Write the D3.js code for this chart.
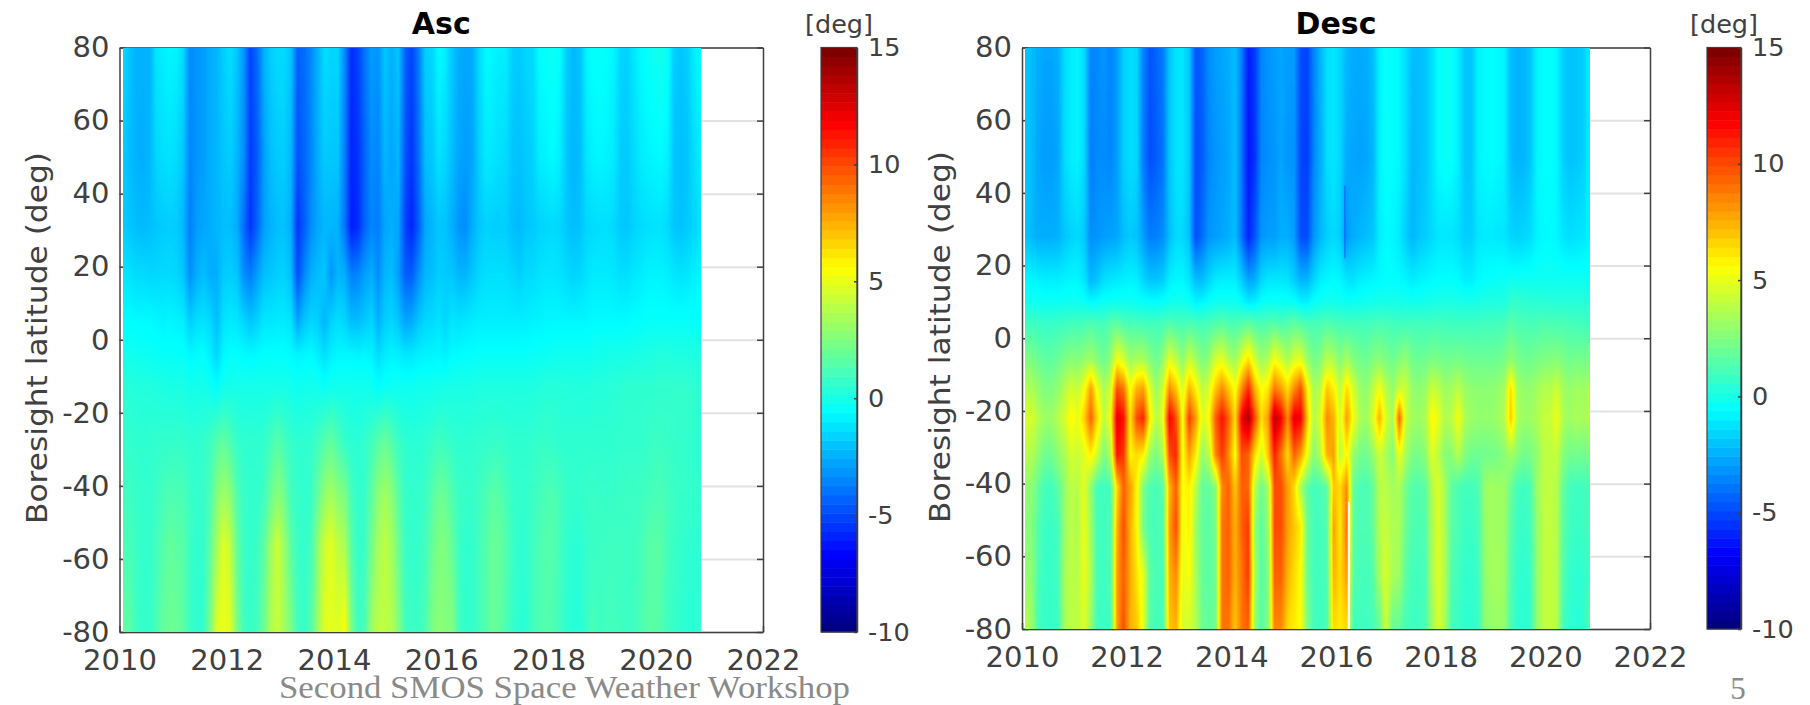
<!DOCTYPE html>
<html>
<head>
<meta charset="utf-8">
<style>
  html, body { margin: 0; padding: 0; background: #fff; }
  svg { display: block; }
</style>
<script src="https://cdn.jsdelivr.net/npm/d3@7"></script>
</head>
<body>
<svg id="chart" width="1810" height="705"></svg>
<script>
// tick labels
const yearTicks = [2010, 2012, 2014, 2016, 2018, 2020, 2022];
const latTicks = [-80, -60, -40, -20, 0, 20, 40, 60, 80];
const cbarTicks = [-10, -5, 0, 5, 10, 15];

// time of each column, one column roughly every 1/8 year
const firstYear = 2010.06;
const yearStep = 0.1254;

// Asc panel, latitude of each row then one row per latitude (deg)
const ascLats = [80, 50, 31, 18, 5, -4, -13, -28, -43, -56, -80];
const asc80 = [
  -1.5,-2,-2.5,-2.5,-2.5,-1.2,-1,-.8,-.9,-1.5,
  -3.5,-3.2,-3,-2.6,-2.4,-1.8,-1.4,-2,-3.2,-5.2,
  -4.2,-2.5,-1.8,-1.5,-1.5,-2,-4.5,-4.2,-3.5,-2.5,
  -1.4,-1.6,-1.6,-3.5,-5.8,-5.2,-4,-3,-3.2,-2,
  -2.5,-2,-4.5,-5.2,-3.8,-1.8,-1.6,-.7,-1,-2,
  -2.6,-2.8,-2.6,-1.5,-.7,-.8,-1,-1,-1.8,-1.9,
  -1.6,-1.5,-.6,-.5,-.3,-.6,-1.8,-2.3,-2.1,-.8,
  -.5,-.5,-.6,-.8,-1.6,-1.7,-1.2,-.7,-.5,-.3,
  -.2,-.4,-1.8,-2,-1.8,-1,-.7];
const asc50 = [
  -1.8,-2.2,-2.5,-2.6,-2.4,-1.6,-1.4,-1.3,-1.5,-2,
  -3.6,-3.2,-3,-2.6,-2.4,-2,-1.8,-2.4,-3.4,-5.4,
  -4.6,-3,-2.2,-1.9,-1.8,-2.4,-4.8,-4.4,-3.6,-2.6,
  -1.9,-2,-2,-3.8,-6,-5.6,-4.4,-3.4,-3.6,-2.4,
  -2.8,-2.4,-4.8,-5.6,-4.2,-2.2,-2,-1.3,-1.6,-2.2,
  -2.8,-3,-2.8,-1.8,-1.1,-1.2,-1.4,-1.5,-2,-2.1,
  -1.9,-1.7,-1,-.9,-.7,-1,-2,-2.4,-2.2,-1.2,
  -.9,-.8,-.9,-1.1,-1.8,-1.9,-1.5,-1.1,-.9,-.8,
  -.7,-.9,-2,-2.2,-2,-1.4,-1];
const asc31 = [
  -1.8,-2,-2.2,-2.3,-2.2,-2,-1.9,-1.8,-1.9,-2.4,
  -3.8,-3,-2.8,-2.6,-2.4,-2.2,-2.2,-2.6,-4.2,-5.6,
  -4.4,-3,-2.5,-2.2,-2.1,-2.6,-5.6,-4.6,-3.4,-2.8,
  -2.4,-2.4,-2.5,-4,-6.2,-5.8,-4.4,-3.6,-3.8,-2.8,
  -2.6,-2.8,-5.2,-6,-4.6,-2.8,-2.4,-2,-2.1,-2.6,
  -3.2,-3.4,-2.6,-2,-1.7,-1.8,-1.8,-1.8,-2.2,-2.3,
  -2,-1.9,-1.7,-1.6,-1.5,-1.6,-2,-2.2,-2.1,-1.6,
  -1.5,-1.4,-1.4,-1.5,-1.9,-2,-1.7,-1.5,-1.4,-1.3,
  -1.3,-1.5,-2,-2.1,-1.9,-1.6,-1.3];
const asc18 = [
  -1.2,-1.3,-1.5,-1.5,-1.6,-1.6,-1.5,-1.5,-1.6,-2,
  -3.4,-2.6,-2.2,-2.6,-2.6,-1.9,-1.8,-2,-3.4,-3.8,
  -3,-2.2,-2,-1.8,-1.7,-2.2,-5,-3.6,-2.6,-2.2,
  -2,-3.2,-2.4,-2.6,-3.8,-3.6,-3,-2.6,-3.4,-2.4,
  -2.2,-3,-4.6,-4.6,-3.4,-2.4,-2.2,-1.8,-1.9,-2,
  -2.4,-2.4,-2,-1.6,-1.4,-1.4,-1.4,-1.4,-1.6,-1.8,
  -1.5,-1.5,-1.3,-1.2,-1.2,-1.3,-1.5,-1.7,-1.6,-1.3,
  -1.1,-1.1,-1.1,-1.2,-1.4,-1.4,-1.2,-1.1,-.9,-.9,
  -.9,-1,-1.2,-1.3,-1.2,-1,-.8];
const asc5 = [
  -.6,-.6,-.7,-.7,-.7,-.8,-.9,-.8,-.9,-1,
  -1.8,-1.4,-1.3,-1.5,-2.2,-1.3,-1.1,-1.2,-1.6,-2,
  -1.7,-1.2,-1.2,-1.1,-1.1,-1.3,-2.8,-2,-1.6,-1.8,
  -2.4,-1.7,-1.4,-1.6,-2.2,-2.2,-1.9,-1.6,-2.5,-1.8,
  -1.6,-2,-2.8,-2.6,-2,-1.6,-1.5,-1.3,-1.6,-1.2,
  -1.3,-1.2,-1.1,-1,-1,-1,-1,-1,-1,-1,
  -1,-.9,-.9,-.8,-.8,-.8,-.8,-.8,-.8,-.8,
  -.7,-.7,-.7,-.7,-.7,-.7,-.6,-.6,-.5,-.5,
  -.5,-.5,-.5,-.5,-.5,-.5,-.5];
const ascS4 = [
  -.2,-.2,-.3,-.3,-.4,-.4,-.5,-.5,-.5,-.5,
  -.8,-.7,-.6,-1,-1.6,-.8,-.6,-.6,-.7,-.8,
  -.7,-.6,-.6,-.6,-.6,-.7,-.9,-.8,-.7,-1,
  -1.4,-1,-.8,-.8,-.8,-.9,-.8,-.9,-1.5,-1.1,
  -.9,-1,-1.2,-1.2,-1,-.9,-.9,-.8,-1,-.7,
  -.7,-.6,-.6,-.5,-.5,-.5,-.5,-.5,-.5,-.5,
  -.5,-.4,-.4,-.4,-.3,-.3,-.3,-.3,-.3,-.3,
  -.2,-.2,-.1,-.1,-.1,-.1,0,0,.1,.1,
  .2,.2,.1,.1,.1,.1,.1];
const ascS13 = [
  .3,.3,.2,.2,.2,.1,.1,0,0,0,
  -.2,-.1,-.1,-.3,-.6,-.2,-.1,-.1,-.1,-.1,
  -.1,-.1,-.1,-.1,-.1,-.2,-.3,-.2,-.2,-.2,
  -.4,-.2,-.2,-.2,-.2,-.2,-.2,-.3,-.6,-.4,
  -.3,-.3,-.3,-.3,-.2,-.2,-.2,-.1,-.1,0,
  0,0,0,.1,.1,.1,.1,.1,.1,.1,
  .1,.1,.2,.3,.3,.3,.2,.2,.2,.2,
  .3,.3,.3,.4,.4,.5,.5,.5,.5,.5,
  .6,.6,.6,.6,.6,.5,.5];
const ascS28 = [
  .6,.6,.5,.5,.5,.6,.6,.6,.7,.6,
  .5,.5,.6,.9,1.4,1.8,1.2,.7,.5,.5,
  .5,.6,1,1.5,1,.7,.5,.5,.6,1,
  1.4,1.8,1.2,.7,.4,.4,.6,1,1.5,1.9,
  1.4,.8,.5,.4,.4,.5,.7,.9,.8,.6,
  .5,.5,.5,.6,.6,.7,.7,.6,.5,.5,
  .5,.6,.7,.7,.6,.5,.5,.5,.5,.5,
  .5,.5,.5,.5,.6,.6,.6,.6,.7,.8,
  .8,.7,.7,.6,.6,.5,.5];
const ascS43 = [
  .9,.9,.7,.6,.6,.8,1.1,1.3,1.2,1.2,
  .8,.6,.7,1.2,2.6,3.4,2.8,1.4,.7,.6,
  .6,.9,1.9,2.8,2.2,1,.7,.5,.8,1.8,
  3,3.5,2.8,2.4,1.1,.6,.7,1.7,2.8,3.4,
  2.8,1.6,.7,.6,.6,.8,1.4,2,1.9,1.3,
  .8,.7,.7,.9,1.2,1.6,1.5,1.1,.7,.6,
  .6,.8,1,1.2,1.3,1,.7,.6,.6,.7,
  .8,.7,.7,.7,.8,.8,.8,.9,1,1.1,
  1.2,1,.8,.7,.7,.6,.6];
const ascS56 = [
  1.2,1.1,.8,.6,.6,1,1.4,1.8,1.6,1.5,
  .8,.5,.6,1.6,3.4,4.9,4,1.8,.8,.6,
  .8,1.6,3.2,4.4,3.2,1.6,.8,.6,1,2.8,
  4.4,4.9,4,3.6,1.5,.6,.8,2.2,3.4,4,
  3.4,2,.8,.6,.7,1,1.8,2.5,2.4,1.8,
  .8,.5,.6,1,1.4,1.9,1.8,1.4,.8,.5,
  .5,.9,1.2,1.4,1.4,1,.6,.4,.4,.7,
  .8,.8,.9,.9,.9,.8,.9,1,1.4,1.6,
  1.5,1,.8,.6,.5,.5,.5];
const ascS80 = [
  1.8,1.6,.9,.6,.6,1.2,1.8,2,2,1.6,
  .8,.5,.6,2.4,4.8,5.2,4.8,2.4,.9,.7,
  1,2,3.6,4.2,3.4,2.4,1,.7,1.4,3.2,
  4.8,5,4.8,5.6,2.4,.8,1.2,3.2,4,4,
  3.8,2.6,1,.8,.8,1.2,2.4,2.8,2.6,2.6,
  1,.6,.6,1,1.4,1.9,1.7,1.2,.7,.4,
  .4,1,1.3,1.4,1.2,.9,.5,.3,.3,.8,
  1.1,.9,1,1,.9,.8,.9,1.2,1.5,1.6,
  1.4,.9,.7,.5,.4,.4,.6];

// Desc panel
const descLats = [80, 50, 28, 16, 10, 4, -6, -14, -22, -32, -41, -52, -65, -80];
const desc80 = [
  -2,-2.2,-2.6,-2.8,-2.8,-2.6,-1.5,-1,-.9,-1.5,
  -3.6,-3.5,-3.2,-3.6,-3,-1.8,-1.4,-1.6,-3.6,-4.8,
  -4.4,-3.8,-2,-1.3,-1.2,-2,-4.8,-4.4,-3.4,-3,
  -2.8,-2.6,-2.2,-3.8,-6.2,-5.4,-3.6,-3.2,-3,-2.8,
  -3,-3,-5,-5.2,-3.6,-2.4,-1.4,-1.2,-1.6,-2.4,
  -2.6,-2.7,-2.6,-2.2,-.9,-.5,-.6,-.8,-1.4,-2.2,
  -2.2,-2,-1.4,-.6,-.4,-.5,-1,-2,-2,-.9,
  -.7,-.6,-.7,-.9,-2.2,-2.5,-2.4,-2,-.8,-.6,
  -.6,-.8,-1.8,-2.1,-2,-1.8,-1];
const desc50 = [
  -2,-2.2,-2.8,-3,-3,-2.8,-1.5,-1,-.9,-1.5,
  -3.8,-3.5,-3.4,-3.6,-3,-1.8,-1.4,-1.6,-3.8,-5,
  -4.6,-4,-2,-1.3,-1.2,-2,-5,-4.6,-3.6,-3.2,
  -3,-2.8,-2.2,-4,-6.4,-5.6,-3.6,-3.4,-3.2,-2.8,
  -3.2,-3.2,-5.2,-5.4,-3.6,-2.6,-1.4,-1.2,-1.6,-2.6,
  -2.8,-2.9,-2.8,-2.4,-.9,-.5,-.6,-.8,-1.4,-2.4,
  -2.2,-2,-1.4,-.6,-.4,-.5,-1,-2,-2,-.9,
  -.7,-.6,-.7,-.9,-2.2,-2.5,-2.4,-2,-.8,-.6,
  -.6,-.8,-1.8,-2.1,-2,-1.8,-1];
const desc28 = [
  -2,-2.3,-2.6,-2.6,-2.6,-2.5,-2,-1.7,-1.5,-1.9,
  -3.4,-3.2,-3,-2.9,-2.8,-2.2,-1.9,-2.1,-3,-3.8,
  -3.7,-3.4,-2.2,-1.5,-1.5,-2.2,-5,-4.2,-3.2,-3,
  -2.8,-2.6,-2.2,-4,-6,-4.8,-3.2,-3,-3,-2.6,
  -2.6,-3,-5,-5,-3.2,-2.4,-1.8,-1.5,-1.8,-3.2,
  -2.6,-2.4,-2.2,-2,-1,-.7,-.8,-1.1,-1.8,-2.4,
  -2,-1.8,-1.5,-1.2,-1.2,-1.2,-1.4,-1.8,-1.8,-1.2,
  -1.1,-1.1,-1.2,-1.2,-1.6,-1.7,-1.6,-1.4,-.9,-.7,
  -.7,-.8,-1.2,-1.4,-1.3,-1.2,-.9];
const desc16 = [
  -.8,-.8,-.9,-1,-1,-1,-.9,-.8,-.8,-1.2,
  -2.4,-2,-1.4,-1.2,-1.1,-1,-.9,-1,-1.6,-2,
  -2,-1.8,-1,-.8,-.8,-1.2,-2.2,-2.2,-1.6,-1.1,
  -1,-1,-1,-1.8,-2.8,-2.6,-1.6,-1.2,-1.2,-1.2,
  -1.3,-1.8,-2.4,-2.4,-1.6,-1,-.8,-.7,-.8,-1.2,
  -1.3,-1,-.9,-.8,-.7,-.6,-.6,-.7,-.8,-1.1,
  -.9,-.8,-.7,-.6,-.6,-.6,-.7,-1,-1,-.7,
  -.5,-.5,-.4,-.4,-.3,-.3,-.3,-.3,-.3,-.3,
  -.3,-.3,-.3,-.3,-.3,-.3,-.3];
const desc10 = [
  -.2,-.2,-.3,-.4,-.4,-.4,-.3,-.3,-.3,-.4,
  -.7,-.6,-.4,-.4,-.3,-.3,-.3,-.4,-.5,-.6,
  -.6,-.5,-.3,-.2,-.2,-.4,-.9,-.8,-.5,-.3,
  -.3,-.3,-.3,-.6,-1.1,-1,-.5,-.4,-.4,-.4,
  -.4,-.5,-.9,-.9,-.5,-.3,-.2,-.2,-.3,-.4,
  -.4,-.3,-.2,-.2,-.1,-.1,-.1,-.1,-.2,-.2,
  -.2,-.1,-.1,0,0,0,0,-.1,-.1,0,
  .1,.1,.1,.1,.6,.6,.5,.4,.4,.4,
  .3,.3,.3,.3,.3,.3,.3];
const desc4 = [
  .9,.9,.8,.7,.7,.8,.9,1,1,1.1,
  1.3,1.1,1.1,1.5,1.7,1.2,1.2,1.1,1,1,
  1,1.1,1.4,1.1,1.1,1.2,1.1,1,1.2,1.3,
  1.6,1.2,1.2,1.4,1.7,1.4,1.2,1.4,1.5,1.2,
  1.4,1.8,1.4,1.2,1.1,1.2,1.4,1.2,1.1,1,
  1,1,1,1.1,1.2,1.1,1,.9,1,1,
  1,.9,1,1,1,.9,.9,.9,.9,.9,
  1,1,1,1.1,1.5,1.2,1.2,1.1,1.2,1.3,
  1.2,1.2,1.2,1.1,1,1,1];
const descS6 = [
  2.6,2.4,2,1.7,1.7,2,2.4,2.8,2.6,3,
  3.4,2.6,2,3,5.5,4.6,3.2,3.6,3.6,2.6,
  2,3,5,4,2.8,4.5,3.4,2.4,3,4.6,
  5,3.8,3.2,5,6.5,4.5,3.2,3.8,5.5,4.6,
  3.6,4.8,5,3.2,2.2,2.6,4,3.6,2.6,3.5,
  2.6,2.2,2,2.6,2.8,2.4,2.1,2.6,3,2.2,
  2,2.1,2.4,2.3,2.1,2.2,2.3,2.1,2,2,
  2,2,2.1,2.3,3,2.4,2.1,2.1,2.3,2.5,
  2.6,2.7,2.4,2.1,2.3,2.2,2.4];
const descS14 = [
  3.8,3.6,3,2.5,2.5,3,3.8,4.6,4.2,5.4,
  8,5.2,3.6,4.6,10,9,5.4,7.5,8,4.8,
  3.2,4.6,8.5,7,4.6,7.5,6,4,4.8,7,
  8.5,7,5.4,8.5,11,7.5,5.4,6.2,9,8,
  6.5,8.5,10,6,3.4,4.2,7,6,4,6.5,
  4.6,3.2,2.9,4,5.4,3.8,3,4.4,4.4,3,
  2.8,3.2,4.4,4,3.2,3.4,4,3.2,2.9,2.8,
  2.8,2.8,3,3.4,6.5,3.4,3,3,3.4,3.8,
  3.8,4.4,3.4,3,3.4,3.2,3.6];
const descS22 = [
  4.8,4.6,3.8,3.2,3.2,3.8,4.6,5.8,5,6.8,
  9.5,6.5,4,5.4,12.5,11.5,6.2,10,11,6,
  3.8,5.2,12,10,5.4,10.5,8,4.8,5.6,9.5,
  11.5,9.5,6.4,12,14,10,6.4,8,13.5,12,
  8.5,12.5,12,7,3.6,5,8.5,7.5,4.6,8,
  5.4,3.6,3.2,4.8,7.5,4.6,3.4,9.5,4.2,3.4,
  3.2,3.6,5.8,5,3.6,4,5.4,3.6,3.2,3,
  3,3,3.2,3.8,7,3.6,3.2,3.2,3.6,4.2,
  4.2,5.2,3.6,3.2,3.6,3.4,3.8];
const descS32 = [
  3.9,3.7,2.9,2.1,2.1,2.9,3.5,4.6,4.3,4.8,
  6,4.4,2.4,3.8,11.5,10.5,5.8,6.5,6,3.1,
  2.4,3.6,10,11,5.4,8,6,3,4,8.5,
  10.5,8.5,5.4,10,9.5,6.5,4.4,7,11,9,
  6.5,9.5,8,5.2,2.6,4,7.5,8,3.9,5.8,
  3.1,2.2,2.1,3,4.4,3.5,2.6,5.2,3.5,2.4,
  2.3,2.9,4.8,3.9,2.6,2.8,3.8,2.6,2.1,2.1,
  2.1,2.2,2.3,2.7,3.4,2.7,2.1,2.4,2.9,4,
  4,4.2,2.7,2.1,2.2,2.1,2.4];
const descS41 = [
  3,2.8,1.8,1,1,1.6,3,4,3.8,5,
  2.8,1,.9,1.2,6.5,9.5,8,5.8,2.4,1.3,
  1.1,1.6,7.5,9.5,5.5,6,4,1.8,1.8,2.6,
  8.5,9.5,7,9.5,9.5,4,2,3.4,10,10,
  8,6.5,3.5,1.6,1,1.2,1.6,7,6.5,8.5,
  1.8,1.2,1.2,1.8,3.9,3.9,3.4,3.6,2.2,1.4,
  1.4,1.6,3.8,4.8,3.4,1.6,1.2,1,1,1.2,
  3,3.4,3.2,3.2,2,1,.9,1.2,3.2,4,
  4.1,3.8,1.8,1,.9,.9,1.2];
const descS52 = [
  2.8,2.6,1.4,.8,.8,1,3,4,3.6,5.2,
  3.2,1,.9,1.2,7.5,10,7.5,5.8,2.2,1.2,
  1.1,1.4,8,10,5.2,6,3.2,1.8,1.6,2.2,
  9,9.5,7.5,9.5,10.5,3,1.5,3,10,10,
  8,7,6,2,1,1,1.4,8,6,9,
  1.6,1.2,1.2,1.8,3.9,4.2,3.6,3.6,2,1.3,
  1.2,1.4,3.6,4.8,3.4,1.6,1.2,.8,.8,1,
  3,3.4,3.2,3.2,1.6,.8,.7,1,3,4,
  4.2,3.8,1.6,.9,.8,.8,1.2];
const descS65 = [
  3,2.8,1.2,.7,.7,1,3.4,4,3.8,5.2,
  3.6,1,.9,1.2,8,9.5,7.8,6.2,5,1.6,
  1.1,1.2,7.5,8.5,5,5.5,3.5,1.8,1.6,2,
  9,9.5,7.5,9,10.5,3.5,1.4,2.4,9.5,9.5,
  7.5,6.5,5.5,2,1,1,1.2,7.5,6.5,8,
  1.4,1.1,1,1.4,3.6,4.6,3.6,3.2,1.6,1,
  1,1.2,3.6,4.8,3.6,1.3,1,.6,.6,.8,
  2.8,3.4,3.4,3.2,1.4,.6,.5,.8,3,4,
  4.2,3.8,1.4,.6,.5,.5,1];
const descS80 = [
  4,3.2,1,.7,.7,.8,3.4,4,4,4.8,
  3,.9,.8,1,8,10,7.5,7,5,1.4,
  1,1.1,7,7.5,4.5,4.5,3.8,2,1.8,2,
  9,9,7,9,9.5,3,1.4,2.6,8.5,8.5,
  6.5,6,5.5,2.5,1,.9,1.2,6.5,6,6.5,
  1,.9,.9,1,1.8,4.4,1.8,1.8,1,.9,
  .9,1.2,3.2,4.6,3.4,1,.8,.5,.5,.7,
  2.8,3,3.2,3,1.2,.5,.4,.7,3,4,
  4.2,3.8,1,.5,.4,.4,1.6];

// data gap in the Desc panel: years and the latitude it reaches up to
const descGapYears = [2016.23, 2016.26];
const descGapLat = -45;
// thin dark streak in the Desc panel: year, latitude span, value
const descStreakYear = 2016.17;
const descStreakLats = [22, 42];
const descStreakValue = -6;

// jet map over the colorbar range: 64 levels on the bar, fine steps for shading
const jet = d3.scaleLinear()
  .domain([0, .125, .375, .625, .875, 1])
  .range(["#000083", "#0000ff", "#00ffff", "#ffff00", "#ff0000", "#800000"]);
const jetLevels = d3.quantize(jet, 64);
const color = d3.scaleQuantize().domain([-10, 15]).range(jetLevels);
const shadeLevels = d3.quantize(jet, 512);
const shade = d3.scaleQuantize().domain([-10, 15]).range(shadeLevels);
const shadeRgb = new Map(shadeLevels.map(c => [c, d3.rgb(c)]));

const ink = "#404040";
const svg = d3.select("#chart");

function drawPanel(p) {
  const g = svg.append("g");
  const x = d3.scaleLinear().domain([2010, 2022]).range([p.left, p.right]);
  const y = d3.scaleLinear().domain([-80, 80]).range([p.bottom, p.top]);

  // light grid, only seen in the empty part right of the data
  g.append("g")
    .attr("transform", "translate(" + p.left + ",0)")
    .call(d3.axisLeft(y).tickValues(latTicks).tickSize(p.left - p.right).tickFormat(""))
    .call(a => a.select(".domain").remove())
    .selectAll("line").attr("stroke", "#e2e2e2").attr("stroke-width", 2);

  // box
  g.append("g")
    .attr("transform", "translate(0," + p.top + ")")
    .call(d3.axisTop(x).tickValues([]).tickSizeOuter(0));
  g.append("g")
    .attr("transform", "translate(" + p.right + ",0)")
    .call(d3.axisRight(y).tickValues(latTicks).tickSizeInner(-6).tickSizeOuter(0).tickFormat(""));
  g.append("g").attr("class", "tick-text")
    .attr("transform", "translate(0," + p.bottom + ")")
    .call(d3.axisBottom(x).tickValues(yearTicks).tickFormat(d => String(d))
      .tickSizeInner(-6).tickSizeOuter(0).tickPadding(p.xPad));
  g.append("g").attr("class", "tick-text")
    .attr("transform", "translate(" + p.left + ",0)")
    .call(d3.axisLeft(y).tickValues(latTicks).tickFormat(d => String(d))
      .tickSizeInner(-6).tickSizeOuter(0).tickPadding(10));

  // heat map, values shaded between rows and columns like shading interp
  const lastYear = firstYear + (p.rows[0].length - 1) * yearStep;
  const x0 = Math.round(x(firstYear)), x1 = Math.round(x(lastYear));
  const y0 = Math.round(p.top), y1 = Math.round(p.bottom);
  const colOf = d3.scaleLinear().domain([firstYear, lastYear]).range([0, p.rows[0].length - 1]).clamp(true);
  const rowOf = d3.scaleLinear().domain(p.lats).range(d3.range(p.lats.length)).clamp(true);
  const canvas = document.createElement("canvas");
  canvas.width = x1 - x0;
  canvas.height = y1 - y0;
  const ctx = canvas.getContext("2d");
  const img = ctx.createImageData(canvas.width, canvas.height);
  let k = 0;
  for (let py = 0; py < canvas.height; py++) {
    const lat = y.invert(y0 + py + .5);
    const r = rowOf(lat), r0 = Math.min(Math.floor(r), p.lats.length - 2), fr = r - r0;
    for (let px = 0; px < canvas.width; px++) {
      const year = x.invert(x0 + px + .5);
      const c = colOf(year), c0 = Math.min(Math.floor(c), p.rows[0].length - 2), fc = c - c0;
      const top = p.rows[r0][c0] * (1 - fc) + p.rows[r0][c0 + 1] * fc;
      const bot = p.rows[r0 + 1][c0] * (1 - fc) + p.rows[r0 + 1][c0 + 1] * fc;
      const col = shadeRgb.get(shade(top * (1 - fr) + bot * fr));
      const gap = p.gapYears && lat < p.gapLat && year >= p.gapYears[0] && year <= p.gapYears[1];
      img.data[k++] = gap ? 255 : col.r;
      img.data[k++] = gap ? 255 : col.g;
      img.data[k++] = gap ? 255 : col.b;
      img.data[k++] = 255;
    }
  }
  ctx.putImageData(img, 0, 0);
  g.append("image")
    .attr("x", x0).attr("y", y0)
    .attr("width", canvas.width).attr("height", canvas.height)
    .attr("href", canvas.toDataURL());

  if (p.streakYear) {
    g.append("line")
      .attr("x1", x(p.streakYear)).attr("x2", x(p.streakYear))
      .attr("y1", y(p.streakLats[0])).attr("y2", y(p.streakLats[1]))
      .attr("stroke", shade(p.streakValue)).attr("stroke-width", 1.2).attr("stroke-opacity", .55);
  }

  // title and labels
  g.append("text").text(p.title)
    .attr("x", (p.left + p.right) / 2).attr("y", p.titleY)
    .attr("text-anchor", "middle")
    .attr("font-size", 30).attr("font-weight", "bold").attr("fill", "#000");
  g.append("text").text("Boresight latitude (deg)")
    .attr("transform", "translate(" + p.ylabelX + "," + p.ylabelY + ") rotate(-90)")
    .attr("text-anchor", "middle")
    .attr("textLength", 372).attr("lengthAdjust", "spacingAndGlyphs")
    .attr("font-size", 29).attr("fill", ink);

  // colorbar
  const cy = d3.scaleLinear().domain([-10, 15]).range([p.bottom, p.top]);
  g.append("g").selectAll("rect")
    .data(jetLevels)
    .join("rect")
    .attr("x", p.cbarLeft)
    .attr("width", p.cbarRight - p.cbarLeft)
    .attr("y", d => cy(color.invertExtent(d)[1]))
    .attr("height", d => cy(color.invertExtent(d)[0]) - cy(color.invertExtent(d)[1]) + .5)
    .attr("fill", d => d);
  g.append("rect")
    .attr("x", p.cbarLeft).attr("y", p.top)
    .attr("width", p.cbarRight - p.cbarLeft).attr("height", cy(-10) - p.top)
    .attr("fill", "none").attr("stroke", ink).attr("stroke-width", 1.2);
  g.append("g").attr("class", "cbar-text")
    .attr("transform", "translate(" + p.cbarRight + ",0)")
    .call(d3.axisRight(cy).tickValues(cbarTicks).tickFormat(d => String(d))
      .tickSizeInner(-3).tickSizeOuter(0).tickPadding(11));
  g.append("text").text("[deg]")
    .attr("x", (p.cbarLeft + p.cbarRight) / 2).attr("y", 33)
    .attr("text-anchor", "middle")
    .attr("font-size", 25.5).attr("fill", ink);
}

svg.attr("font-family", "'DejaVu Sans', sans-serif");

drawPanel({
  title: "Asc", lats: ascLats,
  rows: [asc80, asc50, asc31, asc18, asc5, ascS4, ascS13, ascS28, ascS43, ascS56, ascS80],
  left: 119.5, right: 763, top: 47.5, bottom: 632, xPad: 17.5,
  titleY: 34, ylabelX: 47, ylabelY: 338, cbarLeft: 821, cbarRight: 857
});
drawPanel({
  title: "Desc", lats: descLats,
  rows: [desc80, desc50, desc28, desc16, desc10, desc4, descS6, descS14, descS22, descS32, descS41, descS52, descS65, descS80],
  left: 1022, right: 1650, top: 47.5, bottom: 629, xPad: 17.5,
  gapYears: descGapYears, gapLat: descGapLat,
  streakYear: descStreakYear, streakLats: descStreakLats, streakValue: descStreakValue,
  titleY: 34, ylabelX: 950, ylabelY: 337, cbarLeft: 1707, cbarRight: 1741
});

// axis styling, d3 sets its own font so it has to be overruled here
svg.selectAll("g.tick-text text").attr("font-size", 29).attr("font-family", "'DejaVu Sans', sans-serif").attr("fill", ink);
svg.selectAll("g.cbar-text text").attr("font-size", 25.5).attr("font-family", "'DejaVu Sans', sans-serif").attr("fill", ink);
svg.selectAll(".domain, .tick line").filter(function() { return d3.select(this).attr("stroke") !== "#e2e2e2"; })
  .attr("stroke", ink).attr("stroke-width", 1.5);

// slide footer
svg.append("text").text("Second SMOS Space Weather Workshop")
  .attr("x", 279).attr("y", 698)
  .attr("textLength", 571).attr("lengthAdjust", "spacingAndGlyphs")
  .attr("font-family", "'Liberation Serif', serif")
  .attr("font-size", 31).attr("fill", "#8a8a8a");
svg.append("text").text("5")
  .attr("x", 1738).attr("y", 699)
  .attr("text-anchor", "middle")
  .attr("font-family", "'Liberation Serif', serif")
  .attr("font-size", 31).attr("fill", "#8a8a8a");
</script>
</body>
</html>
